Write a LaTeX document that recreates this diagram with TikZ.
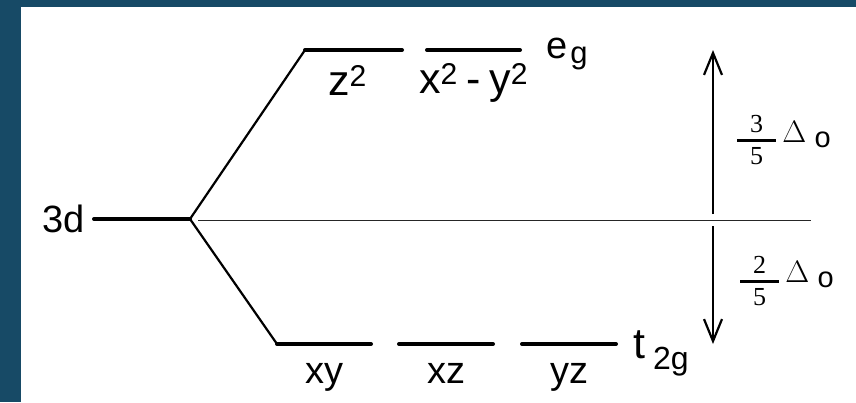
\documentclass[tikz,border=0pt]{standalone}
\usepackage{fontspec}
\setmainfont{Liberation Sans}
\newfontfamily\serifnum{Liberation Serif}
\newfontfamily\lmr{Latin Modern Roman}
\usetikzlibrary{arrows.meta,positioning}
\definecolor{edgeblue}{HTML}{174A66}
\newcommand{\splitfrac}[1]{%
  \vbox{\hbox to 39pt{\hss #1\hss}\kern6pt\hrule height 3pt\kern6pt\hbox to 39pt{\hss 5\hss}}}

\begin{document}
\begin{tikzpicture}[
    x=1pt, y=-1pt,
    level/.style={line width=4pt, line cap=round},
    split/.style={line width=2.2pt},
    gap/.style={line width=2.2pt, ->},
    orb/.style={inner sep=0pt, font=\fontsize{38}{40}\selectfont},
    orbup/.style={inner sep=0pt, font=\fontsize{43}{45}\selectfont},
    frac/.style={inner sep=0pt, font=\serifnum\fontsize{26}{26}\selectfont},
    delta/.style={inner sep=0pt, font=\lmr\fontsize{31}{31}\selectfont},
    sub/.style={inner sep=0pt, font=\fontsize{29}{29}\selectfont},
    >={Straight Barb[length=22pt,width=18pt]}
]
\useasboundingbox (0,0) rectangle (856,402);
\fill[edgeblue] (0,0) rectangle (856,7);
\fill[edgeblue] (0,0) rectangle (21,402);

% energy levels
\coordinate (d1) at (94,219);
\coordinate (d2) at (190,219);
\coordinate (e1a) at (305,50);
\coordinate (e1b) at (402,50);
\coordinate (e2a) at (427,50);
\coordinate (e2b) at (520,50);
\coordinate (t1a) at (277,344);
\coordinate (t1b) at (371,344);
\coordinate (t2a) at (399,344);
\coordinate (t2b) at (493,344);
\coordinate (t3a) at (522,344);
\coordinate (t3b) at (616,344);
\coordinate (hl0) at (198,220);
\coordinate (hl1) at (811,220);

\draw[level] (d1) -- (d2);
\draw[level] (e1a) -- (e1b);
\draw[level] (e2a) -- (e2b);
\draw[level] (t1a) -- (t1b);
\draw[level] (t2a) -- (t2b);
\draw[level] (t3a) -- (t3b);
\draw[split] (d2) -- (e1a);
\draw[split] (d2) -- (t1a);
\draw[line width=0.8pt, black!85] (hl0) -- (hl1);

% labels
\node[orb, left=9pt of d1, anchor=east] (d) {3d};
\path (e1a) -- (e1b) node[orbup, midway, below=15pt, xshift=-6pt] (z2) {z\textsuperscript{2}};
\path (e2a) -- (e2b) node[orbup, midway, below=13pt] (x2y2) {x\textsuperscript{2}\hspace{0.2em}-\hspace{0.2em}y\textsuperscript{2}};
\node[orb, right=26pt of e2b, anchor=base west, yshift=-8pt] (eg) {e\hspace{3pt}\raisebox{-5pt}{\fontsize{31}{31}\selectfont g}};
\path (t1a) -- (t1b) node[orb, midway, below=19pt] (xy) {xy};
\path (t2a) -- (t2b) node[orb, midway, below=19pt] (xz) {xz};
\path (t3a) -- (t3b) node[orb, midway, below=19pt] (yz) {yz};
\node[orbup, right=17pt of t3b, anchor=base west, yshift=-14pt] (t2g) {t\hspace{8pt}\raisebox{-11pt}{\fontsize{32}{32}\selectfont 2g}};

% splitting arrows
\coordinate (u0) at (713,214);
\coordinate (u1) at (713,50);
\coordinate (w0) at (713,226);
\coordinate (w1) at (713,344);
\draw[gap] (u0) -- node[frac, pos=0.45, right=23pt] (f35) {\splitfrac{3}} (u1);
\draw[gap] (w0) -- node[frac, pos=0.47, right=26pt] (f25) {\splitfrac{2}} (w1);
\node[delta, right=5pt of f35.east, anchor=base west, yshift=-2pt] (d35) {Δ};
\node[sub, right=8pt of d35.base east, anchor=base west, yshift=-5pt] (o35) {o};
\node[delta, right=5pt of f25.east, anchor=base west, yshift=-1pt] (d25) {Δ};
\node[sub, right=8pt of d25.base east, anchor=base west, yshift=-5pt] (o25) {o};
\end{tikzpicture}
\end{document}
